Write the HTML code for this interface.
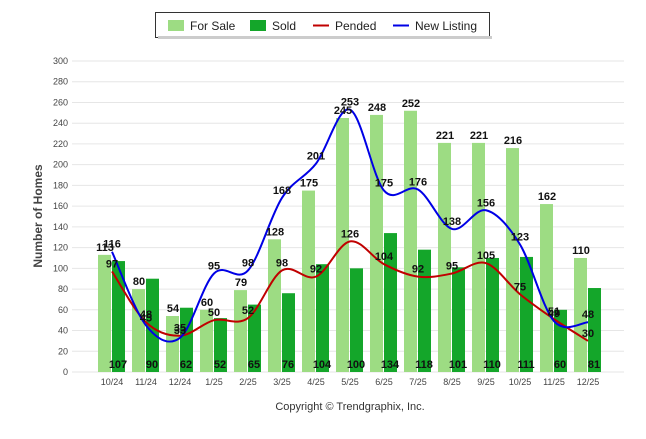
<!DOCTYPE html>
<html><head><meta charset="utf-8"><style>
body{margin:0;background:#fff;font-family:"Liberation Sans",sans-serif;}
svg text{font-family:"Liberation Sans",sans-serif;}
</style></head><body>
<svg id="c" width="646" height="434" xmlns="http://www.w3.org/2000/svg"></svg>
<script>
const categories=["10/24","11/24","12/24","1/25","2/25","3/25","4/25","5/25","6/25","7/25","8/25","9/25","10/25","11/25","12/25"];
const forSale=[113,80,54,60,79,128,175,245,248,252,221,221,216,162,110];
const sold=[107,90,62,52,65,76,104,100,134,118,101,110,111,60,81];
const pended=[97,48,35,50,52,98,92,126,104,92,95,105,75,51,30];
const newListing=[116,45,33,95,98,168,201,253,175,176,138,156,123,49,48];
const yTicks=[0,20,40,60,80,100,120,140,160,180,200,220,240,260,280,300];
const NS="http://www.w3.org/2000/svg";
const svg=document.getElementById('c');
const y=v=>372-v*(311/300);
const x=i=>112+i*34;
function mk(t,a,txt){const e=document.createElementNS(NS,t);for(const k in a)e.setAttribute(k,a[k]);if(txt!==undefined)e.textContent=txt;svg.appendChild(e);return e;}
yTicks.forEach(t=>{
 const g=mk('line',{x1:72,x2:624,y1:y(t),y2:y(t),stroke:'#e6e6e6','stroke-width':1});
 
 
 const l=mk('text',{x:68,y:y(t)+3,'text-anchor':'end','font-size':9,fill:'#444'},t);
 
 
});
const yt=mk('text',{x:42,y:216,'text-anchor':'middle','font-size':12,'font-weight':'bold',fill:'#444',transform:'rotate(-90 42 216)'},'Number of Homes');


categories.forEach((c,i)=>{
 const b1=mk('rect',{x:x(i)-14,y:y(forSale[i]),width:13,height:372-y(forSale[i]),fill:'#9ddc83'});
 
 
 const b2=mk('rect',{x:x(i),y:y(sold[i]),width:13,height:372-y(sold[i]),fill:'#14a62a'});
 
 
 const xl=mk('text',{x:x(i),y:385,'text-anchor':'middle','font-size':9,fill:'#444'},c);
 
 
});
function smooth(arr){
 const p=arr.map((v,i)=>[x(i),y(v)]);let d=`M${p[0][0]},${p[0][1]}`;
 for(let i=0;i<p.length-1;i++){const p0=p[i-1]||p[i],p1=p[i],p2=p[i+1],p3=p[i+2]||p2;
  const c1=[p1[0]+(p2[0]-p0[0])/6,p1[1]+(p2[1]-p0[1])/6],c2=[p2[0]-(p3[0]-p1[0])/6,p2[1]-(p3[1]-p1[1])/6];
  d+=` C${c1[0]},${c1[1]} ${c2[0]},${c2[1]} ${p2[0]},${p2[1]}`;}
 return d;}
const lp=mk('path',{d:smooth(pended),fill:'none',stroke:'#c00000','stroke-width':2});


const ln=mk('path',{d:smooth(newListing),fill:'none',stroke:'#0000e6','stroke-width':2});


const lab=(px,py,t,nm)=>{const e=mk('text',{x:px,y:py,'text-anchor':'middle','font-size':11,'font-weight':'bold',fill:'#111'},t);
 
 };
categories.forEach((c,i)=>{
 lab(x(i)-7,y(forSale[i])-4,forSale[i],'for-sale-value');
 lab(x(i)+6,368,sold[i],'sold-value');
 lab(x(i),y(pended[i])-4,pended[i],'pended-value');
 lab(x(i),y(newListing[i])-4,newListing[i],'new-listing-value');
});
const lg=mk('rect',{x:155.5,y:12.5,width:334,height:25,fill:'#fff',stroke:'#333'});


mk('rect',{x:158,y:36,width:334,height:3,fill:'#ccc'});
const leg=[["For Sale",'rect','#9ddc83',168],["Sold",'rect','#14a62a',250],["Pended",'line','#c00000',313],["New Listing",'line','#0000e6',393]];
leg.forEach(l=>{
 if(l[1]=='rect'){const s=mk('rect',{x:l[3],y:20,width:16,height:11,fill:l[2]});}
 else{const s=mk('line',{x1:l[3],x2:l[3]+16,y1:25.5,y2:25.5,stroke:l[2],'stroke-width':2});}
 const t=mk('text',{x:l[3]+22,y:30,'font-size':12,fill:'#222'},l[0]);
 
 
});
const cp=mk('text',{x:350,y:410,'text-anchor':'middle','font-size':11,fill:'#333'},'Copyright © Trendgraphix, Inc.');


</script>
</body></html>
